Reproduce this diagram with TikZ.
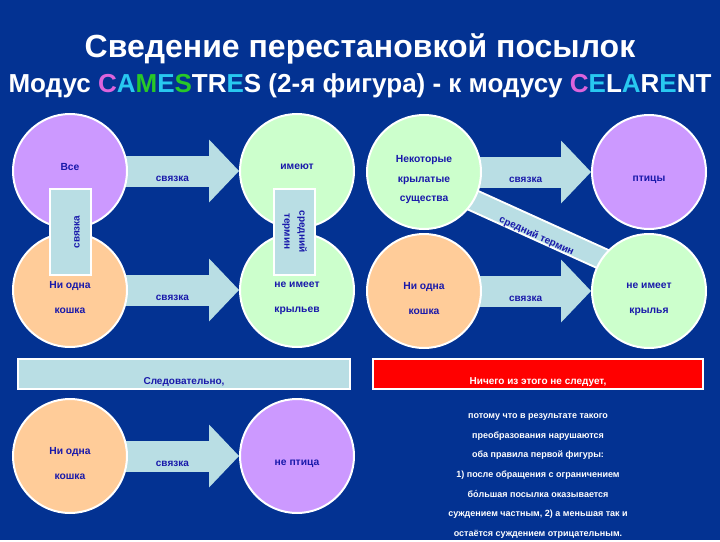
\documentclass[tikz,border=0pt]{standalone}
\usepackage{fontspec}
\setmainfont{Liberation Sans}
\usetikzlibrary{arrows.meta}

\definecolor{bgblue}{RGB}{3,50,146}
\definecolor{cvio}{RGB}{204,153,255}
\definecolor{cgrn}{RGB}{204,255,204}
\definecolor{cpch}{RGB}{255,204,153}
\definecolor{arrblue}{RGB}{185,222,228}
\definecolor{txtblue}{RGB}{25,25,170}
\definecolor{ltvio}{RGB}{220,100,220}
\definecolor{ltcyan}{RGB}{40,200,240}
\definecolor{ltgrn}{RGB}{40,200,40}
\newcommand{\cV}[1]{\textcolor{ltvio}{#1}}
\newcommand{\cC}[1]{\textcolor{ltcyan}{#1}}
\newcommand{\cG}[1]{\textcolor{ltgrn}{#1}}

\pgfdeclarelayer{back}
\pgfdeclarelayer{mid}
\pgfsetlayers{back,mid,main}

\tikzset{
  ctext/.style={text=txtblue, align=center, yshift=-8pt,
    font=\bfseries\fontsize{10.3}{25}\selectfont},
  circ/.style={circle, draw=white, line width=2pt, minimum size=114pt, inner sep=0pt,
    label={[ctext]center:{#1}}},
  vio/.style={circ={#1}, fill=cvio},
  grn/.style={circ={#1}, fill=cgrn},
  pch/.style={circ={#1}, fill=cpch},
  blockarrow/.style={draw=arrblue, line width=31pt, shorten <=-8pt,
    -{Triangle[width=63pt, length=30pt, line width=0pt]}},
  arrlabel/.style={pos=0.4, yshift=-8pt, text=txtblue, font=\bfseries\fontsize{10}{12}\selectfont},
  vbox/.style={rectangle, draw=white, line width=2pt, fill=arrblue, text=txtblue,
    minimum width=86pt, minimum height=41pt, align=center,
    font=\bfseries\fontsize{10}{15}\selectfont},
  bar/.style={rectangle, draw=white, line width=2pt, minimum height=30pt,
    text height=21pt, text depth=0pt, font=\bfseries\fontsize{10}{12}\selectfont},
  band/.style={draw=arrblue, line width=19pt, preaction={draw=white, line width=23pt}},
}

\begin{document}
\begin{tikzpicture}[x=1pt, y=-1pt]
  \begin{pgfonlayer}{back}
    \fill[bgblue] (0,0) rectangle (720,540);
  \end{pgfonlayer}

  \node[text=white, font=\bfseries\fontsize{32}{36}\selectfont] (title) at (360,49)
    {Сведение перестановкой посылок};
  \node[text=white, font=\bfseries\fontsize{26}{30}\selectfont] (subtitle) at (360,86)
    {Модус \cV{C}\cC{A}\cG{M}\cC{E}\cG{S}TR\cC{E}S (2-я фигура) - к модусу \cV{C}\cC{E}L\cC{A}R\cC{E}NT};

  % left: CAMESTRES
  \node[vio={Все\\~}] (vse) at (70,171) {};
  \node[grn={имеют\\~}] (imeyut) at (297,171) {};
  \node[pch={Ни одна\\кошка}] (koshka) at (70,290) {};
  \node[grn={не имеет\\крыльев}] (nekrylev) at (297,290) {};

  \begin{pgfonlayer}{mid}
    \draw[blockarrow] (vse) -- node[arrlabel] {связка} (imeyut);
    \draw[blockarrow] (koshka) -- node[arrlabel] {связка} (nekrylev);
  \end{pgfonlayer}

  \node[vbox, rotate=90, text height=18pt, text depth=0pt] (svyazka) at (70.5,232) {связка};
  \node[vbox, rotate=-90] (sredterm) at (294.5,231.5) {средний\\термин};

  % right: CELARENT
  \node[grn={Некоторые\\[-5.5pt]крылатые\\[-5.5pt]существа}] (nekot) at (424,172) {};
  \node[vio={птицы}] (ptitsy) at (649,172) {};
  \node[pch={Ни одна\\кошка}] (koshkaB) at (424,291) {};
  \node[grn={не имеет\\крылья}] (krylya) at (649,291) {};

  \begin{pgfonlayer}{mid}
    \draw[band] ([yshift=-6pt]nekot.center) -- ([yshift=11pt]krylya.center);
    \path ([yshift=-13pt]nekot.center) -- node[sloped, text=txtblue,
      font=\bfseries\fontsize{10}{12}\selectfont] {средний термин} ([yshift=4pt]krylya.center);
    \draw[blockarrow] (nekot) -- node[arrlabel] {связка} (ptitsy);
    \draw[blockarrow] (koshkaB) -- node[arrlabel] {связка} (krylya);
  \end{pgfonlayer}

  % conclusions
  \node[bar, fill=arrblue, text=txtblue, minimum width=332pt] (sledov) at (184,374) {Следовательно,};
  \node[bar, fill=red, text=white, minimum width=330pt] (nichego) at (538,374) {Ничего из этого не следует,};

  \node[pch={Ни одна\\кошка}] (koshkaC) at (70,456) {};
  \node[vio={не птица}] (neptitsa) at (297,456) {};
  \begin{pgfonlayer}{mid}
    \draw[blockarrow] (koshkaC) -- node[arrlabel] {связка} (neptitsa);
  \end{pgfonlayer}

  \node[text=white, align=center, font=\bfseries\fontsize{9}{19.7}\selectfont] (reason) at (538,476)
    {потому что в результате такого\\
     преобразования нарушаются\\
     оба правила первой фигуры:\\
     1) после обращения с ограничением\\
     бо́льшая посылка оказывается\\
     суждением частным, 2) а меньшая так и\\
     остаётся суждением отрицательным.};
\end{tikzpicture}
\end{document}
